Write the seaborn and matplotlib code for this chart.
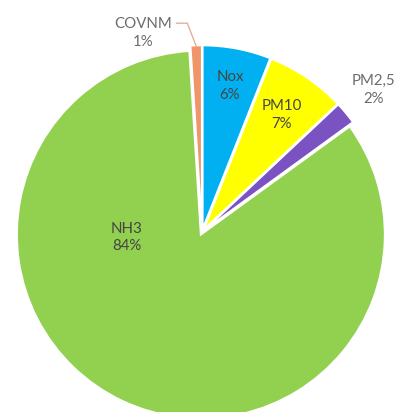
import matplotlib
matplotlib.use("Agg")
import matplotlib.pyplot as plt
import seaborn as sns
import numpy as np

# Emission shares by pollutant (percent)
pollutants = ["Nox", "PM10", "PM2,5", "NH3", "COVNM"]
shares = [6, 7, 2, 84, 1]
slice_colors = ["#00B0F0", "#FFFF00", "#7B52C1", "#92D050", "#F0956A"]

sns.set_theme(style="white")
plt.rcParams["font.family"] = ["Lato", "DejaVu Sans"]

fig = plt.figure(figsize=(4.03, 4.12), dpi=100)
ax = fig.add_axes([0, 0, 1, 1])

palette = sns.color_palette(slice_colors)
wedges, _ = ax.pie(
    shares,
    colors=palette,
    startangle=90,
    counterclock=False,
    explode=[0.015] * len(shares),
    wedgeprops=dict(edgecolor="white", linewidth=1.5),
)

ax.set_xlim(-1.098, 1.092)
ax.set_ylim(-0.978, 1.261)
ax.set_aspect("equal", adjustable="box")
ax.axis("off")

fs = 10.8
inside_dark = "#454545"
outside_gray = "#6b6b6b"
ls = 1.35

def mid_angle(w):
    return np.deg2rad((w.theta1 + w.theta2) / 2)

# labels drawn inside their slices
inside = {"Nox": 0.81, "PM10": 0.77}
for w, name, val in zip(wedges, pollutants, shares):
    if name in inside:
        a = mid_angle(w)
        r = inside[name]
        ax.text(r * np.cos(a), r * np.sin(a), f"{name}\n{val}%",
                ha="center", va="center", fontsize=fs, color=inside_dark,
                linespacing=ls)

# the large slice gets its label left of the centre
i_nh3 = pollutants.index("NH3")
ax.text(-0.41, -0.03, f"NH3\n{shares[i_nh3]}%", ha="center", va="center",
        fontsize=fs, color=inside_dark, linespacing=ls)

# labels placed outside the pie
i_pm25 = pollutants.index("PM2,5")
ax.text(1.21 * np.cos(np.deg2rad(39.7)), 1.21 * np.sin(np.deg2rad(39.7)),
        f"PM2,5\n{shares[i_pm25]}%", ha="center", va="center",
        fontsize=fs, color=outside_gray, linespacing=ls)

i_cov = pollutants.index("COVNM")
a = mid_angle(wedges[i_cov])
ax.text(-0.32, 1.08, f"COVNM\n{shares[i_cov]}%", ha="center", va="center",
        fontsize=fs, color=outside_gray, linespacing=ls)
edge = np.array([np.cos(a), np.sin(a)]) * 1.0
ax.plot([-0.14, -0.08, edge[0]], [1.135, 1.135, edge[1] + 0.01],
        color="#e0a890", linewidth=0.9)

fig.savefig("out.png", dpi=100, facecolor="white")
